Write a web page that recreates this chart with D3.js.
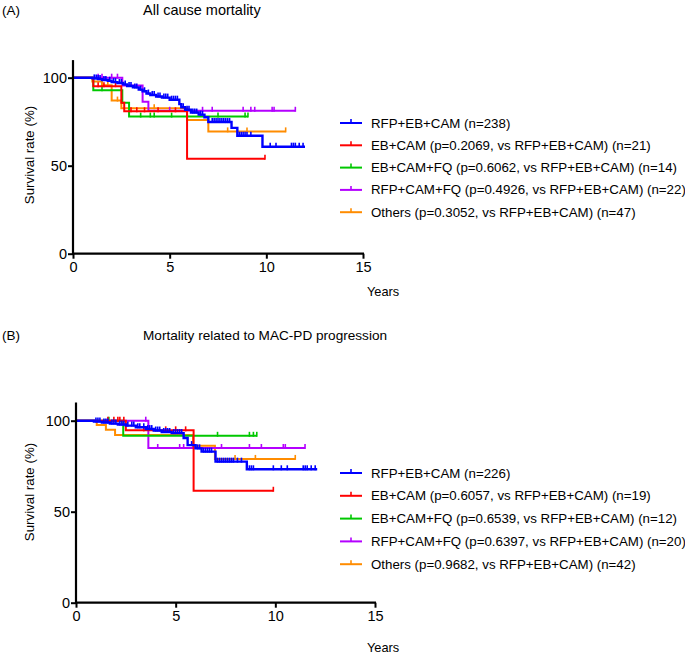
<!DOCTYPE html>
<html><head><meta charset="utf-8">
<script src="https://cdn.jsdelivr.net/npm/d3@7"></script>
<style>
html,body{margin:0;padding:0;background:#fff;}
svg{display:block;font-family:"Liberation Sans",Arial,sans-serif;}
</style></head>
<body>
<svg id="chart" width="685" height="654"></svg>
<script>
// ---------- DATA ----------
const groupNames = ["RFP+EB+CAM", "EB+CAM", "EB+CAM+FQ", "RFP+CAM+FQ", "Others"];
const groupColors = ["#0000ff", "#ff0000", "#00c800", "#b400ff", "#ff8c00"];
const xTicks = [0, 5, 10, 15];
const yTicks = [0, 50, 100];

// Panel A : All cause mortality
const titleA = "All cause mortality";
const legendA = [
  "RFP+EB+CAM (n=238)",
  "EB+CAM (p=0.2069, vs RFP+EB+CAM) (n=21)",
  "EB+CAM+FQ (p=0.6062, vs RFP+EB+CAM) (n=14)",
  "RFP+CAM+FQ (p=0.4926, vs RFP+EB+CAM) (n=22)",
  "Others (p=0.3052, vs RFP+EB+CAM) (n=47)"
];
const aBlueSteps = [[0,100],[1.0,99.6],[1.3,99.2],[1.5,98.7],[1.8,98.3],[2.0,97.5],[2.3,97.0],[2.6,96.2],[2.8,95.3],[3.1,94.5],[3.4,93.2],[3.6,92.3],[3.8,91.0],[4.0,90.2],[4.3,89.3],[4.6,88.7],[5.0,87.5],[5.5,85.0],[5.6,83.2],[5.8,81.8],[6.1,80.2],[6.5,79.0],[6.8,77.5],[7.0,74.8],[8.2,71.5],[8.5,67.0],[9.8,60.8]];
const aBlueEnd = 12.0;
const aBlueCensor = [1.1,1.2,1.3,1.4,1.6,1.7,1.9,2.1,2.2,2.4,2.5,2.7,2.9,3.0,3.2,3.3,3.5,3.7,3.9,4.1,4.2,4.4,4.5,4.7,4.8,4.9,5.1,5.2,5.3,5.4,5.7,5.9,6.0,6.2,6.3,6.4,6.6,6.7,7.2,7.3,7.4,7.5,7.6,7.7,7.8,7.9,8.0,8.1,8.6,8.7,8.8,8.9,9.0,9.2,10.2,10.5,11.3,11.4,11.5,11.7,11.9];
const aRedSteps = [[0,100],[1.05,95.2],[2.5,85.7],[2.65,80.9],[5.9,54.0]];
const aRedEnd = 9.93;
const aRedCensor = [1.3,1.6,2.2,3.0,3.3,3.7,4.4,5.3,9.93];
const aGreenSteps = [[0,100],[1.05,92.9],[2.55,85.7],[2.9,77.9]];
const aGreenEnd = 9.05;
const aGreenCensor = [1.5,3.5,4.0,4.2,5.1,7.5,8.9,9.05];
const aPurpleSteps = [[0,100],[2.55,95.5],[3.6,86.4],[3.9,81.2]];
const aPurpleEnd = 11.5;
const aPurpleCensor = [1.3,1.5,2.0,2.3,5.0,6.7,7.2,8.8,9.2,9.4,10.3,10.4,11.5];
const aOrangeSteps = [[0,100],[1.0,97.9],[1.5,95.7],[2.0,87.0],[2.5,82.6],[5.9,76.0],[7.0,69.5]];
const aOrangeEnd = 11.0;
const aOrangeCensor = [1.8,2.3,4.2,8.0,9.0,11.0];

// Panel B : Mortality related to MAC-PD progression
const titleB = "Mortality related to MAC-PD progression";
const legendB = [
  "RFP+EB+CAM (n=226)",
  "EB+CAM (p=0.6057, vs RFP+EB+CAM) (n=19)",
  "EB+CAM+FQ (p=0.6539, vs RFP+EB+CAM) (n=12)",
  "RFP+CAM+FQ (p=0.6397, vs RFP+EB+CAM) (n=20)",
  "Others (p=0.9682, vs RFP+EB+CAM) (n=42)"
];
const bBlueSteps = [[0,100],[0.9,99.5],[1.3,99.0],[1.7,98.4],[2.1,97.9],[2.5,97.3],[3.0,96.4],[3.5,95.4],[3.9,94.6],[4.3,93.8],[4.8,93.2],[5.4,90.5],[5.6,86.6],[6.0,84.8],[6.3,83.0],[7.0,77.5],[8.57,73.3]];
const bBlueEnd = 12.1;
const bBlueCensor = [1.0,1.1,1.2,1.4,1.5,1.6,1.8,1.9,2.0,2.2,2.3,2.4,2.6,2.8,2.9,3.1,3.2,3.4,3.6,3.7,3.8,4.0,4.1,4.2,4.4,4.5,4.6,4.7,4.9,5.0,5.1,5.2,5.3,5.8,6.1,6.2,6.4,6.5,6.6,6.7,6.8,7.1,7.2,7.3,7.4,7.5,7.6,7.7,7.8,7.9,8.1,8.3,8.7,8.8,8.9,9.9,10.3,10.6,11.4,11.5,11.6,11.8,12.0];
const bRedSteps = [[0,100],[2.5,94.7],[5.9,61.5]];
const bRedEnd = 9.9;
const bRedCensor = [1.6,1.9,2.1,2.2,2.4,3.4,4.5,5.0,5.5,9.9];
const bGreenSteps = [[0,100],[2.37,91.7]];
const bGreenEnd = 9.07;
const bGreenCensor = [1.65,7.1,8.7,8.9,9.07];
const bPurpleSteps = [[0,100],[3.63,85.0]];
const bPurpleEnd = 11.49;
const bPurpleCensor = [3.5,4.1,5.2,5.4,7.3,8.7,9.3,10.4,10.5,11.49];
const bOrangeSteps = [[0,100],[1.04,97.6],[1.5,95.0],[1.96,92.1],[5.87,86.2],[6.97,79.0]];
const bOrangeEnd = 10.99;
const bOrangeCensor = [7.98,9.0,11.0];

// ---------- DRAW ----------
const svg = d3.select("#chart");
const FONT = '"Liberation Sans",Arial,sans-serif';

function survAt(steps, t){
  let s = steps[0][1];
  for (const p of steps){ if (p[0] <= t) s = p[1]; }
  return s;
}

function panel(cfg){
  const x = d3.scaleLinear().domain([0,15]).range([cfg.x0, cfg.x1]);
  const y = d3.scaleLinear().domain([0,100]).range([cfg.y0, cfg.y100]);
  const g = svg.append("g");

  // labels
  g.append("text").attr("x", 2).attr("y", cfg.titleY).attr("font-size", 13.5).text(cfg.letter);
  g.append("text").attr("x", 143).attr("y", cfg.titleY).attr("font-size", cfg.titleSize).text(cfg.title);
  g.append("text").attr("transform", `translate(${cfg.ylabX},${cfg.ylabY}) rotate(-90)`)
    .attr("text-anchor","middle").attr("font-size", 13.3).text("Survival rate (%)");
  g.append("text").attr("x", 367).attr("y", cfg.yearsY).attr("font-size", 12.8).text("Years");

  // curves
  const order = [4,3,2,1,0];
  const line = d3.line().x(d=>x(d[0])).y(d=>y(d[1])).curve(d3.curveStepAfter);
  order.forEach(i=>{
    const c = cfg.curves[i];
    const pts = c.steps.concat([[c.end, c.steps[c.steps.length-1][1]]]);
    g.append("path").attr("d", line(pts)).attr("fill","none")
      .attr("stroke", groupColors[i]).attr("stroke-width", i===0 ? 2.4 : 2).attr("stroke-linejoin","miter");
    g.selectAll(null).data(c.censor).enter().append("line")
      .attr("x1", d=>x(d)).attr("x2", d=>x(d))
      .attr("y1", d=>y(survAt(c.steps,d))+1).attr("y2", d=>y(survAt(c.steps,d))-4)
      .attr("stroke", groupColors[i]).attr("stroke-width", 1.6);
  });

  // axes
  const xAxis = d3.axisBottom(x).tickValues(xTicks).tickSize(5).tickPadding(3);
  const yAxis = d3.axisLeft(y).tickValues(yTicks).tickSize(5).tickPadding(1);
  const xa = g.append("g").attr("transform", `translate(0,${cfg.y0})`).call(xAxis);
  const ya = g.append("g").attr("transform", `translate(${cfg.x0},0)`).call(yAxis);
  [xa, ya].forEach(a=>{
    a.select(".domain").remove();
    a.selectAll("line").attr("stroke","#000").attr("stroke-width",2);
    a.selectAll("text").attr("font-size",14.5).attr("font-family",FONT).attr("fill","#000");
  });
  g.append("line").attr("x1", cfg.x0).attr("x2", cfg.x1+1).attr("y1", cfg.y0).attr("y2", cfg.y0)
    .attr("stroke","#000").attr("stroke-width",2.2);
  g.append("line").attr("x1", cfg.x0).attr("x2", cfg.x0).attr("y1", cfg.y0+1).attr("y2", y(110))
    .attr("stroke","#000").attr("stroke-width",2.2);

  // legend
  cfg.legend.forEach((txt,i)=>{
    const ly = cfg.legY0 + i*cfg.legDy;
    g.append("line").attr("x1",340).attr("x2",362).attr("y1",ly).attr("y2",ly)
      .attr("stroke",groupColors[i]).attr("stroke-width",2);
    g.append("line").attr("x1",351).attr("x2",351).attr("y1",ly).attr("y2",ly-4)
      .attr("stroke",groupColors[i]).attr("stroke-width",1.6);
    g.append("text").attr("x",371).attr("y",ly+4.5).attr("font-size",13.3).text(txt);
  });
}

panel({
  letter:"(A)", title:titleA, titleY:15, titleSize:14.5,
  x0:73, x1:363, y0:253.7, y100:77.7,
  ylabX:34, ylabY:155, yearsY:296,
  legend:legendA, legY0:123, legDy:22.3,
  curves:[
    {steps:aBlueSteps,end:aBlueEnd,censor:aBlueCensor},
    {steps:aRedSteps,end:aRedEnd,censor:aRedCensor},
    {steps:aGreenSteps,end:aGreenEnd,censor:aGreenCensor},
    {steps:aPurpleSteps,end:aPurpleEnd,censor:aPurpleCensor},
    {steps:aOrangeSteps,end:aOrangeEnd,censor:aOrangeCensor}
  ]
});
panel({
  letter:"(B)", title:titleB, titleY:340, titleSize:13.6,
  x0:76, x1:375, y0:602.7, y100:420.7,
  ylabX:34, ylabY:492, yearsY:652,
  legend:legendB, legY0:473, legDy:22.8,
  curves:[
    {steps:bBlueSteps,end:bBlueEnd,censor:bBlueCensor},
    {steps:bRedSteps,end:bRedEnd,censor:bRedCensor},
    {steps:bGreenSteps,end:bGreenEnd,censor:bGreenCensor},
    {steps:bPurpleSteps,end:bPurpleEnd,censor:bPurpleCensor},
    {steps:bOrangeSteps,end:bOrangeEnd,censor:bOrangeCensor}
  ]
});
</script>
</body></html>
